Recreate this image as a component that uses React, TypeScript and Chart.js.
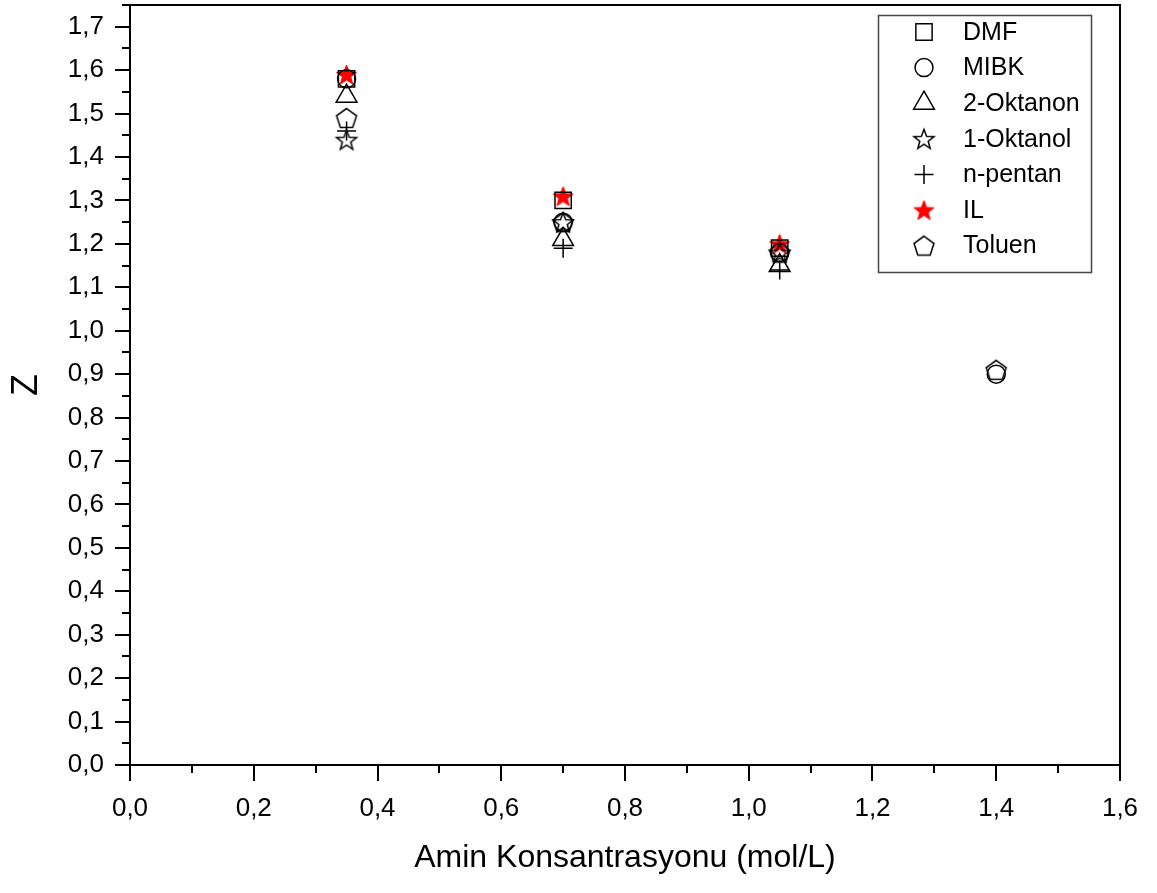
import React, { useEffect, useRef } from 'react';
import { Chart, registerables } from 'chart.js';
import { drawPoint } from 'chart.js/helpers';

Chart.register(...registerables);

// ---- data ----
const concentrations = [0.35, 0.7, 1.05, 1.4];
const dmf = [1.58, 1.30, 1.19];
const mibk = [1.58, 1.25, 1.18, 0.90];
const oktanon = [1.54, 1.21, 1.15];
const oktanol = [1.44, 1.25, 1.18];
const pentan = [1.46, 1.19, 1.14];
const il = [1.59, 1.31, 1.20];
const toluen = [1.49, 1.25, 1.18, 0.91];
const seriesLabels = ['DMF', 'MIBK', '2-Oktanon', '1-Oktanol', 'n-pentan', 'IL', 'Toluen'];
const xMajorTicks = [0, 0.2, 0.4, 0.6, 0.8, 1.0, 1.2, 1.4, 1.6];
const xMinorTicks = [0.1, 0.3, 0.5, 0.7, 0.9, 1.1, 1.3, 1.5];
const yMajorTicks = [0, 0.1, 0.2, 0.3, 0.4, 0.5, 0.6, 0.7, 0.8, 0.9, 1.0, 1.1, 1.2, 1.3, 1.4, 1.5, 1.6, 1.7];
const yMinorTicks = [0.05, 0.15, 0.25, 0.35, 0.45, 0.55, 0.65, 0.75, 0.85, 0.95, 1.05, 1.15, 1.25, 1.35, 1.45, 1.55, 1.65, 1.75];
const xTitle = 'Amin Konsantrasyonu (mol/L)';
const yTitle = 'Z';

const FONT = '"Liberation Sans", Arial, sans-serif';

function makeStar(R: number, fill: string | null, stroke: string, lw: number): HTMLCanvasElement {
  const size = Math.ceil(2 * R + 2 * lw + 2);
  const c = document.createElement('canvas');
  c.width = size;
  c.height = size;
  const ctx = c.getContext('2d')!;
  const cx = size / 2;
  const cy = size / 2 + R * 0.1;
  const r = R * 0.42;
  ctx.beginPath();
  for (let i = 0; i < 10; i++) {
    const rad = i % 2 === 0 ? R : r;
    const a = -Math.PI / 2 + (i * Math.PI) / 5;
    const px = cx + rad * Math.cos(a);
    const py = cy + rad * Math.sin(a);
    if (i === 0) ctx.moveTo(px, py);
    else ctx.lineTo(px, py);
  }
  ctx.closePath();
  if (fill) {
    ctx.fillStyle = fill;
    ctx.fill();
  }
  ctx.strokeStyle = stroke;
  ctx.lineWidth = lw;
  ctx.lineJoin = 'miter';
  ctx.stroke();
  return c;
}

function makePentagon(R: number, stroke: string, lw: number): HTMLCanvasElement {
  const size = Math.ceil(2 * R + 2 * lw + 2);
  const c = document.createElement('canvas');
  c.width = size;
  c.height = size;
  const ctx = c.getContext('2d')!;
  const cx = size / 2;
  const cy = size / 2 + R * 0.1;
  ctx.beginPath();
  for (let i = 0; i < 5; i++) {
    const a = -Math.PI / 2 + (i * 2 * Math.PI) / 5;
    const px = cx + R * Math.cos(a);
    const py = cy + R * Math.sin(a);
    if (i === 0) ctx.moveTo(px, py);
    else ctx.lineTo(px, py);
  }
  ctx.closePath();
  ctx.strokeStyle = stroke;
  ctx.lineWidth = lw;
  ctx.stroke();
  return c;
}

const toPoints = (ys: number[]) => ys.map((y, i) => ({ x: concentrations[i], y }));

const fmt = (v: number) => v.toFixed(1).replace('.', ',');

const framePlugin = {
  id: 'originFrame',
  afterDraw(chart: any) {
    const { ctx, chartArea } = chart;
    const xs = chart.scales.x;
    const ys = chart.scales.y;
    ctx.save();
    ctx.strokeStyle = '#000';
    ctx.lineWidth = 2;
    ctx.lineCap = 'square';
    ctx.beginPath();
    ctx.moveTo(chartArea.left, chartArea.top);
    ctx.lineTo(chartArea.right, chartArea.top);
    ctx.lineTo(chartArea.right, chartArea.bottom);
    ctx.lineTo(chartArea.left, chartArea.bottom);
    ctx.closePath();
    ctx.stroke();
    ctx.lineCap = 'butt';
    ctx.beginPath();
    xMajorTicks.forEach((v) => {
      const px = Math.round(xs.getPixelForValue(v));
      ctx.moveTo(px, chartArea.bottom);
      ctx.lineTo(px, chartArea.bottom + 16);
    });
    xMinorTicks.forEach((v) => {
      const px = Math.round(xs.getPixelForValue(v));
      ctx.moveTo(px, chartArea.bottom);
      ctx.lineTo(px, chartArea.bottom + 8);
    });
    yMajorTicks.forEach((v) => {
      const py = Math.round(ys.getPixelForValue(v));
      ctx.moveTo(chartArea.left, py);
      ctx.lineTo(chartArea.left - 15, py);
    });
    yMinorTicks.forEach((v) => {
      const py = Math.round(ys.getPixelForValue(v));
      ctx.moveTo(chartArea.left, py);
      ctx.lineTo(chartArea.left - 8, py);
    });
    ctx.stroke();
    ctx.restore();
  },
};

const legendPlugin = {
  id: 'boxLegend',
  afterDraw(chart: any) {
    const { ctx, chartArea } = chart;
    const boxW = 213;
    const boxH = 257;
    const boxX = chartArea.right - 29 - boxW;
    const boxY = chartArea.top + 10;
    ctx.save();
    ctx.fillStyle = '#fff';
    ctx.fillRect(boxX, boxY, boxW, boxH);
    ctx.strokeStyle = '#444';
    ctx.lineWidth = 1.5;
    ctx.strokeRect(boxX + 0.5, boxY + 0.5, boxW, boxH);
    chart.data.datasets.forEach((ds: any, i: number) => {
      const cy = boxY + 17 + i * 35.6;
      const mx = boxX + 46;
      ctx.save();
      ctx.strokeStyle = ds.pointBorderColor;
      ctx.fillStyle = ds.pointBackgroundColor;
      ctx.lineWidth = ds.pointBorderWidth;
      drawPoint(
        ctx,
        { pointStyle: ds.pointStyle, radius: ds.pointRadius, borderWidth: ds.pointBorderWidth, rotation: 0 },
        mx,
        cy
      );
      ctx.restore();
      ctx.fillStyle = '#000';
      ctx.font = `25px ${FONT}`;
      ctx.textBaseline = 'middle';
      ctx.textAlign = 'left';
      ctx.fillText(ds.label, boxX + 85, cy + 1);
    });
    ctx.restore();
  },
};

export default function App() {
  const canvasRef = useRef<HTMLCanvasElement | null>(null);

  useEffect(() => {
    const canvas = canvasRef.current;
    if (!canvas) return;
    const hollow = 'rgba(0,0,0,0)';
    const starOpen = makeStar(10.5, null, '#000', 1.5);
    const starRed = makeStar(10.5, '#ff0000', '#ff0000', 1);
    const pentagon = makePentagon(10.5, '#000', 1.5);

    const base = {
      pointBorderColor: '#000',
      pointBackgroundColor: hollow,
      pointBorderWidth: 1.5,
      showLine: false,
    };

    const chart = new Chart(canvas, {
      type: 'scatter',
      data: {
        datasets: [
          { ...base, label: seriesLabels[0], data: toPoints(dmf), pointStyle: 'rect', pointRadius: 11.5, pointHoverRadius: 11.5 },
          { ...base, label: seriesLabels[1], data: toPoints(mibk), pointStyle: 'circle', pointRadius: 9, pointHoverRadius: 9 },
          { ...base, label: seriesLabels[2], data: toPoints(oktanon), pointStyle: 'triangle', pointRadius: 12, pointHoverRadius: 12 },
          { ...base, label: seriesLabels[3], data: toPoints(oktanol), pointStyle: starOpen, pointRadius: 10.5, pointHoverRadius: 10.5 },
          { ...base, label: seriesLabels[4], data: toPoints(pentan), pointStyle: 'cross', pointRadius: 9.5, pointHoverRadius: 9.5 },
          { ...base, label: seriesLabels[5], data: toPoints(il), pointStyle: starRed, pointRadius: 10.5, pointHoverRadius: 10.5, pointBorderColor: '#ff0000', pointBackgroundColor: '#ff0000' },
          { ...base, label: seriesLabels[6], data: toPoints(toluen), pointStyle: pentagon, pointRadius: 10.5, pointHoverRadius: 10.5 },
        ] as any,
      },
      options: {
        animation: false,
        responsive: false,
        maintainAspectRatio: false,
        events: [],
        clip: false,
        layout: { autoPadding: false, padding: { left: 0, top: 5, right: 37, bottom: 0 } },
        plugins: {
          legend: { display: false },
          tooltip: { enabled: false },
        },
        scales: {
          x: {
            type: 'linear',
            min: 0,
            max: 1.6,
            afterFit: (s: any) => {
              s.height = 128;
              s.paddingLeft = 0;
              s.paddingRight = 0;
            },
            grid: { display: false, drawTicks: false },
            border: { display: false },
            ticks: {
              stepSize: 0.2,
              padding: 28,
              color: '#000',
              font: { family: FONT, size: 26 },
              callback: (v: any) => fmt(Number(v)),
            },
            title: {
              display: true,
              text: xTitle,
              color: '#000',
              font: { family: FONT, size: 32, lineHeight: 1 },
              padding: { top: 0, bottom: 19 },
            },
          },
          y: {
            type: 'linear',
            min: 0,
            max: 1.75,
            afterFit: (s: any) => {
              s.width = 130;
              s.paddingTop = 0;
              s.paddingBottom = 0;
            },
            grid: { display: false, drawTicks: false },
            border: { display: false },
            ticks: {
              stepSize: 0.1,
              includeBounds: false,
              padding: 26,
              color: '#000',
              font: { family: FONT, size: 26 },
              callback: (v: any) => fmt(Number(v)),
            },
            title: {
              display: true,
              text: yTitle,
              color: '#000',
              font: { family: FONT, size: 36, lineHeight: 1 },
              padding: { top: 9, bottom: 0 },
            },
          },
        },
      },
      plugins: [framePlugin, legendPlugin],
    } as any);

    return () => {
      chart.destroy();
    };
  }, []);

  return (
    <div style={{ position: 'absolute', left: 0, top: 0, width: 1157, height: 893, background: '#fff' }}>
      <canvas ref={canvasRef} width={1157} height={893} />
    </div>
  );
}
